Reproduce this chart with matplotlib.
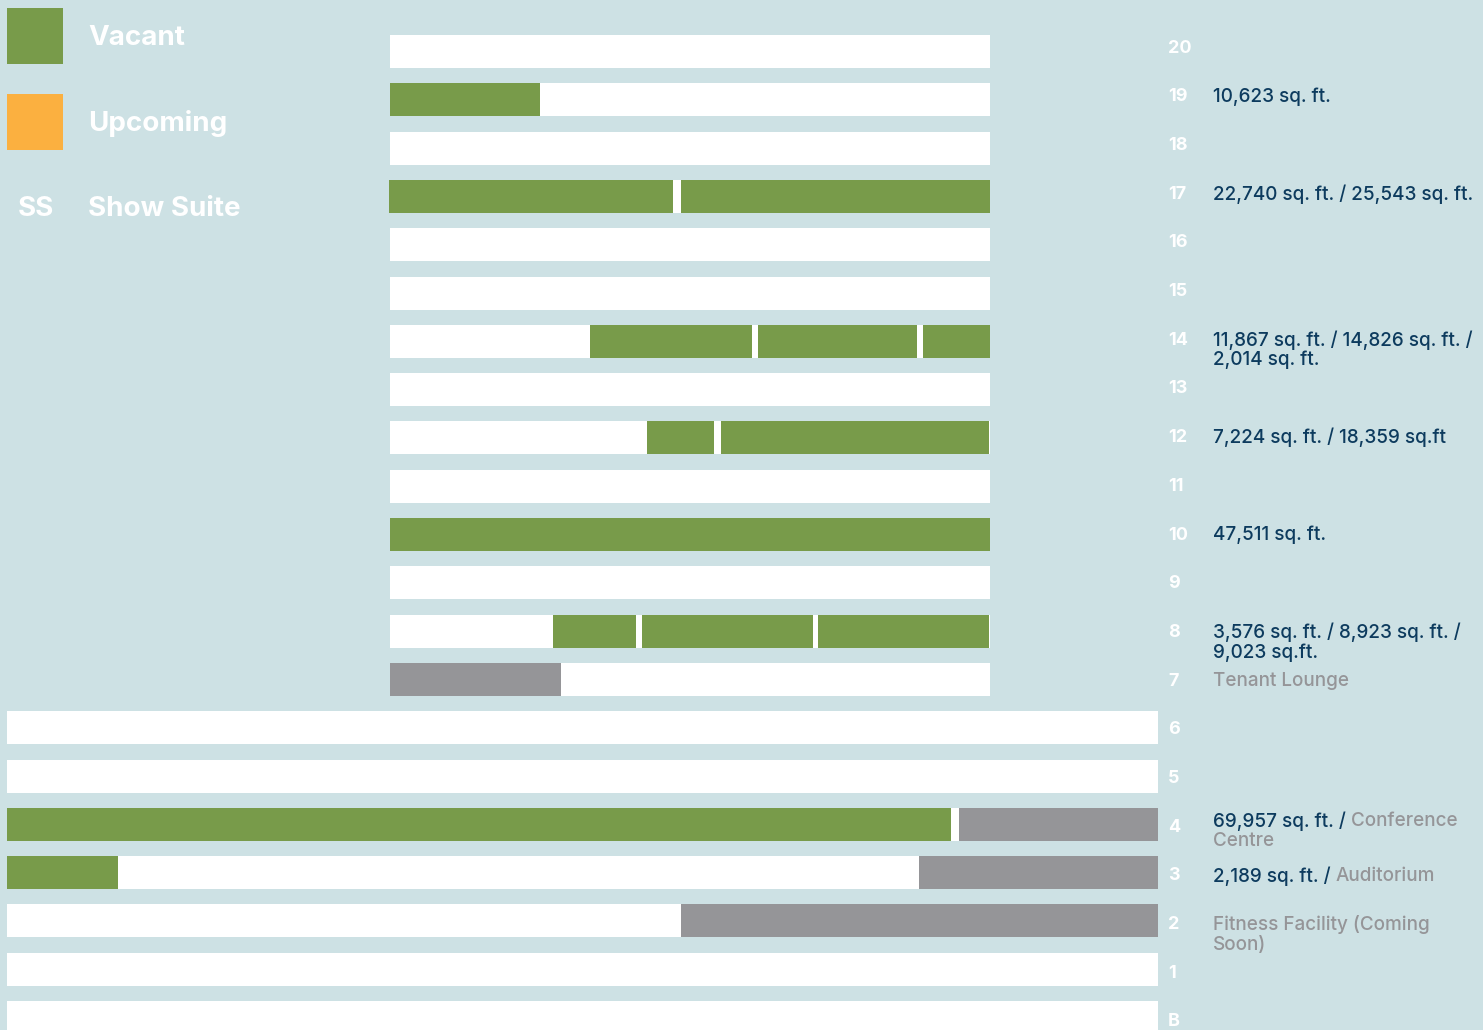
import matplotlib
matplotlib.use("Agg")
import matplotlib.pyplot as plt
from matplotlib.patches import Rectangle

plt.rcParams['font.family'] = ['Inter', 'DejaVu Sans']

BG = '#cde1e4'
COLORS = {'vacant': '#789b4a', 'upcoming': '#fbb040', 'amenity': '#959598'}
DARK = '#0d3b5e'
GREYTXT = '#959598'

floors = ['20', '19', '18', '17', '16', '15', '14', '13', '12', '11', '10',
          '9', '8', '7', '6', '5', '4', '3', '2', '1', 'B']

# floor plate extent (x units)
tower = (390, 990)
podium = (7, 1158)
podium_floors = ['6', '5', '4', '3', '2', '1', 'B']

# coloured segments per floor: (start, end, kind)
segments = {
    '19': [(390, 540, 'vacant')],
    '17': [(389, 673, 'vacant'), (681, 990, 'vacant')],
    '14': [(590, 752, 'vacant'), (758, 917, 'vacant'), (923, 990, 'vacant')],
    '12': [(647, 714, 'vacant'), (721, 989, 'vacant')],
    '10': [(390, 990, 'vacant')],
    '8': [(553, 636, 'vacant'), (642, 813, 'vacant'), (818, 989, 'vacant')],
    '7': [(390, 561, 'amenity')],
    '4': [(7, 951, 'vacant'), (959, 1158, 'amenity')],
    '3': [(7, 118, 'vacant'), (919, 1158, 'amenity')],
    '2': [(681, 1158, 'amenity')],
}

# notes: list of lines, each a list of (text, style)
notes = {
    '19': [[('10,623 sq. ft.', 'd')]],
    '17': [[('22,740 sq. ft. / 25,543 sq. ft.', 'd')]],
    '14': [[('11,867 sq. ft. / 14,826 sq. ft. /', 'd')], [('2,014 sq. ft.', 'd')]],
    '12': [[('7,224 sq. ft. / 18,359 sq.ft', 'd')]],
    '10': [[('47,511 sq. ft.', 'd')]],
    '8': [[('3,576 sq. ft. / 8,923 sq. ft. /', 'd')], [('9,023 sq.ft.', 'd')]],
    '7': [[('Tenant Lounge', 'g')]],
    '4': [[('69,957 sq. ft. / ', 'd'), ('Conference', 'g')], [('Centre', 'g')]],
    '3': [[('2,189 sq. ft. / ', 'd'), ('Auditorium', 'g')]],
    '2': [[('Fitness Facility (Coming', 'g')], [('Soon)', 'g')]],
}

legend_items = [('Vacant', 'vacant'), ('Upcoming', 'upcoming')]

W, H = 1483, 1030
fig = plt.figure(figsize=(W / 100, H / 100), dpi=100, facecolor=BG)
ax = fig.add_axes([0, 0, 1, 1])
ax.set_facecolor(BG)
pitch = 48.3
y0 = 51.5
ax.set_xlim(0, W)
ax.set_ylim((H - y0) / pitch, -y0 / pitch)
ax.axis('off')


def px(y):
    # pixel row -> data row
    return (y - y0) / pitch


bh = 33 / pitch
label_y = {}
for i, f in enumerate(floors):
    x1, x2 = podium if f in podium_floors else tower
    ax.barh(i, x2 - x1, left=x1, height=bh, color='white', linewidth=0)
    for s, e, kind in segments.get(f, []):
        ax.barh(i, e - s, left=s, height=bh, color=COLORS[kind], linewidth=0)
    label_y[f] = px(48 + 48.7 * i)
    ax.text(1168, label_y[f], f, color='white', fontsize=13, fontweight='bold',
            va='center', ha='left')

fig.canvas.draw()
renderer = fig.canvas.get_renderer()
inv = ax.transData.inverted()
line_gap = 20 / pitch
for f, lines in notes.items():
    ytop = label_y[f] - (0.12 if f == '4' else 0)
    for k, parts in enumerate(lines):
        x = 1213
        for txt, st in parts:
            t = ax.text(x, ytop + k * line_gap, txt, fontsize=13.6,
                        fontweight='medium', va='center', ha='left',
                        color=DARK if st == 'd' else GREYTXT)
            bb = t.get_window_extent(renderer)
            x = inv.transform((bb.x1, bb.y0))[0]

# legend
for k, (lab, kind) in enumerate(legend_items):
    ax.add_patch(Rectangle((7, px(8 + 86 * k)), 56, 56 / pitch,
                           color=COLORS[kind], linewidth=0))
    ax.text(88, px(38 + 85 * k), lab, color='white', fontsize=20,
            fontweight='bold', va='center', ha='left')
ax.text(18, px(209), 'SS', color='white', fontsize=20,
        fontweight='bold', va='center', ha='left')
ax.text(88, px(209), 'Show Suite', color='white', fontsize=20,
        fontweight='bold', va='center', ha='left')

fig.savefig('out.png', dpi=100, facecolor=BG)
